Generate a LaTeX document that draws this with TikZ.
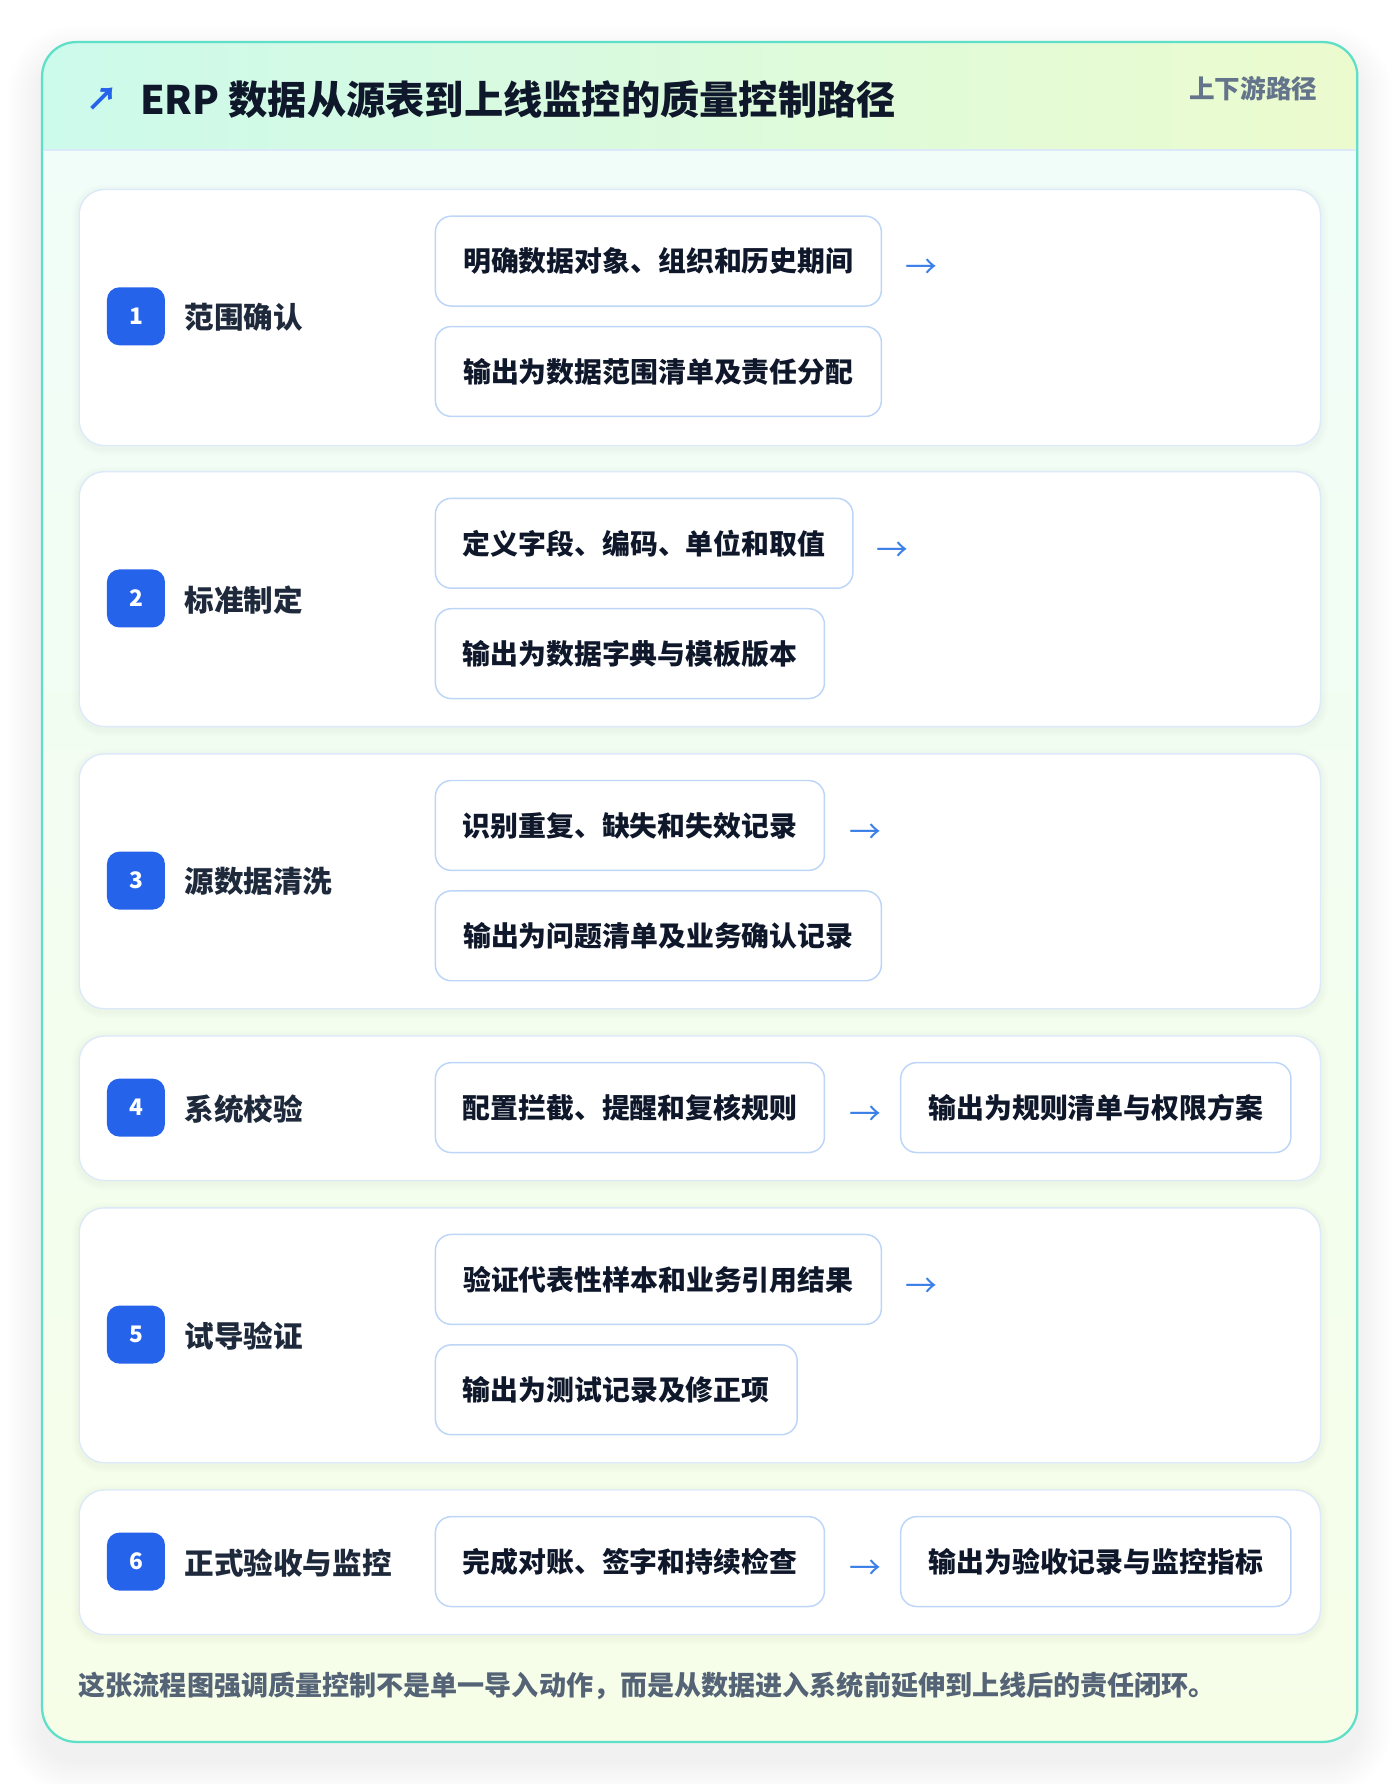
\documentclass[tikz,border=0pt]{standalone}
\usepackage{fontspec}
\setmainfont{Noto Sans CJK SC}
\definecolor{bordteal}{HTML}{5EE0C8}
\definecolor{hdrL}{HTML}{CCFAEB}
\definecolor{hdrR}{HTML}{ECFBCE}
\definecolor{bodyT}{HTML}{F0FDF9}
\definecolor{bodyB}{HTML}{F6FEE8}
\definecolor{cardline}{HTML}{DCE9FA}
\definecolor{boxline}{HTML}{BDD6F7}
\definecolor{badgeblue}{HTML}{2563EB}
\definecolor{arrowblue}{HTML}{3B7FE8}
\definecolor{ink}{HTML}{0F172A}
\definecolor{labink}{HTML}{1E293B}
\definecolor{greytxt}{HTML}{64748B}
\definecolor{foottxt}{HTML}{556377}
\pgfdeclarelayer{bg}
\pgfdeclarelayer{shadow}
\pgfsetlayers{bg,shadow,main}
\tikzset{
  card/.style={draw=cardline, line width=1.2pt, fill=white, rounded corners=22pt, anchor=north west, inner sep=0pt},
  stepbox/.style={draw=boxline, line width=1.3pt, fill=white, rounded corners=14pt, minimum height=79pt, inner sep=0pt,
    text=ink, font=\fontsize{24.5}{28}\selectfont\bfseries, anchor=west},
  badge/.style={fill=badgeblue, rounded corners=11pt, minimum size=51pt, inner sep=0pt, text=white, font=\fontsize{20}{22}\selectfont\bfseries},
  steplabel/.style={anchor=west, inner sep=0pt, text=labink, font=\fontsize{26}{30}\selectfont\bfseries},
  flowarrow/.style={inner sep=0pt, text=arrowblue, font=\fontsize{28}{30}\selectfont},
}
% soft shadow: #1 node name, #2 radius, #3 vertical drop, #4 layers, #5 step, #6 opacity
\newcommand\mkshadow[6]{%
  \begin{pgfonlayer}{shadow}
  \foreach \i in {1,...,#4} {%
    \pgfmathsetmacro\rr{#2+\i*#5}%
    \pgfmathsetmacro\ee{\i*#5}%
    \fill[black, opacity=#6, rounded corners=\rr pt]
      ([xshift=-\ee pt, yshift=-#3pt+\ee pt]#1.north west) rectangle ([xshift=\ee pt, yshift=-#3pt-\ee pt]#1.south east);
  }%
  \end{pgfonlayer}}
\begin{document}
\begin{tikzpicture}[x=1pt,y=-1pt]
\useasboundingbox (0,0) rectangle (1230,1568);
\coordinate (ONW) at (37,37);
\coordinate (OSE) at (1193,1531);
\begin{pgfonlayer}{bg}
\fill[white] (0,0) rectangle (1230,1568);
\foreach \i in {1,...,14} {%
  \pgfmathsetmacro\ee{\i*2.2}%
  \pgfmathsetmacro\rr{30+\i*2.2}%
  \fill[black, opacity=0.0045, rounded corners=\rr pt] ([xshift=-\ee pt, yshift=-16pt+\ee pt]ONW) rectangle ([xshift=\ee pt, yshift=-16pt-\ee pt]OSE);
}
\path[rounded corners=30pt, top color=bodyT, bottom color=bodyB] (ONW) rectangle (OSE);
\begin{scope}
\clip[rounded corners=30pt] (ONW) rectangle (OSE);
\path[left color=hdrL, right color=hdrR] (37,37) rectangle (1193,132);
\draw[cardline, line width=1.5pt] (37,132) -- (1193,132);
\end{scope}
\draw[bordteal, line width=2pt, rounded corners=30pt] (ONW) rectangle (OSE);
\end{pgfonlayer}

\node[inner sep=0pt, text=badgeblue, font=\fontsize{28}{30}\selectfont\bfseries] (tarrow) at (90,87) {↗};
\node[anchor=west, inner sep=0pt, text=ink, font=\fontsize{34.5}{38}\selectfont\bfseries] (title) at (123,87) {ERP 数据从源表到上线监控的质量控制路径};
\node[anchor=east, inner sep=0pt, text=greytxt, font=\fontsize{22.5}{25}\selectfont\bfseries] (sub) at (1158,78) {上下游路径};

% cards
\node[card, minimum width=1091pt, minimum height=225pt] (c1) at (69,166) {};
\node[card, minimum width=1091pt, minimum height=224pt] (c2) at (69,414) {};
\node[card, minimum width=1091pt, minimum height=224pt] (c3) at (69,662) {};
\node[card, minimum width=1091pt, minimum height=127pt] (c4) at (69,910) {};
\node[card, minimum width=1091pt, minimum height=224pt] (c5) at (69,1061) {};
\node[card, minimum width=1091pt, minimum height=127pt] (c6) at (69,1309) {};
\foreach \c in {c1,c2,c3,c4,c5,c6} {\mkshadow{\c}{22}{2}{4}{1.5}{0.007}}

% card 1
\node[badge] (b1) at (119.5,278) {1};
\node[steplabel] (l1) at (162,279) {范围确认};
\node[stepbox, minimum width=392pt] (s1a) at (382,229.5) {明确数据对象、组织和历史期间};
\node[stepbox, minimum width=392pt] (s1b) at (382,326.5) {输出为数据范围清单及责任分配};
\node[flowarrow] (a1) at ([xshift=34.5pt,yshift=-7pt]s1a.east) {→};

% card 2
\node[badge] (b2) at (119.5,526) {2};
\node[steplabel] (l2) at (162,527) {标准制定};
\node[stepbox, minimum width=367pt] (s2a) at (382,477.5) {定义字段、编码、单位和取值};
\node[stepbox, minimum width=342pt] (s2b) at (382,574.5) {输出为数据字典与模板版本};
\node[flowarrow] (a2) at ([xshift=34.5pt,yshift=-7pt]s2a.east) {→};

% card 3
\node[badge] (b3) at (119.5,774) {3};
\node[steplabel] (l3) at (162,775) {源数据清洗};
\node[stepbox, minimum width=342pt] (s3a) at (382,725.5) {识别重复、缺失和失效记录};
\node[stepbox, minimum width=392pt] (s3b) at (382,822.5) {输出为问题清单及业务确认记录};
\node[flowarrow] (a3) at ([xshift=35pt,yshift=-7pt]s3a.east) {→};

% card 4
\node[badge] (b4) at (119.5,973.5) {4};
\node[steplabel] (l4) at (162,974.5) {系统校验};
\node[stepbox, minimum width=342pt] (s4a) at (382,973.5) {配置拦截、提醒和复核规则};
\node[stepbox, minimum width=343pt] (s4b) at (791,973.5) {输出为规则清单与权限方案};
\node[flowarrow] (a4) at ([xshift=35pt,yshift=-7pt]s4a.east) {→};

% card 5
\node[badge] (b5) at (119.5,1173) {5};
\node[steplabel] (l5) at (162,1174) {试导验证};
\node[stepbox, minimum width=392pt] (s5a) at (382,1124.5) {验证代表性样本和业务引用结果};
\node[stepbox, minimum width=318pt] (s5b) at (382,1221.5) {输出为测试记录及修正项};
\node[flowarrow] (a5) at ([xshift=34.5pt,yshift=-7pt]s5a.east) {→};

% card 6
\node[badge] (b6) at (119.5,1372.5) {6};
\node[steplabel] (l6) at (162,1373.5) {正式验收与监控};
\node[stepbox, minimum width=342pt] (s6a) at (382,1372.5) {完成对账、签字和持续检查};
\node[stepbox, minimum width=343pt] (s6b) at (791,1372.5) {输出为验收记录与监控指标};
\node[flowarrow] (a6) at ([xshift=35pt,yshift=-7pt]s6a.east) {→};

\foreach \s in {s1a,s1b,s2a,s2b,s3a,s3b,s4a,s4b,s5a,s5b,s6a,s6b} {\mkshadow{\s}{14}{7}{8}{1.6}{0.012}}

\node[anchor=west, inner sep=0pt, text=foottxt, font=\fontsize{23.8}{26}\selectfont\bfseries] (foot) at (69,1482) {这张流程图强调质量控制不是单一导入动作，而是从数据进入系统前延伸到上线后的责任闭环。};
\end{tikzpicture}
\end{document}
